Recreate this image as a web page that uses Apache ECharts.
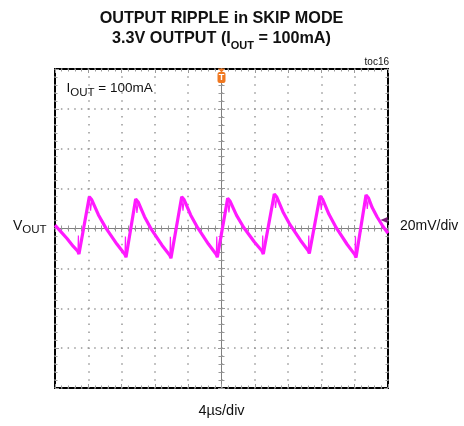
<!DOCTYPE html>
<html>
<head>
<meta charset="utf-8">
<script src="https://cdn.jsdelivr.net/npm/echarts@6/dist/echarts.min.js"></script>
<style>
html,body{margin:0;padding:0;background:#fff;}
#c{width:464px;height:426px;}
</style>
</head>
<body>
<div id="c"></div>
<script>
// ---- Data (time in µs relative to trigger, ripple in mV) ----
const timeUs = [
  -20.00, -19.30, -18.56, -17.80, -17.27, -17.12, -15.88, -15.58,
  -14.78, -13.90, -12.57, -11.62, -11.47, -10.31, -10.01,
  -9.25, -8.40, -7.13, -6.22, -6.07, -4.78, -4.48,
  -3.71, -2.85, -1.57, -0.65, -0.50, 0.74, 1.04,
  1.81, 2.67, 3.95, 4.87, 5.02, 6.34, 6.64,
  7.39, 8.23, 9.50, 10.40, 10.55, 11.83, 12.13,
  12.91, 13.78, 15.08, 16.01, 16.16, 17.36, 17.66,
  18.10, 18.68, 19.40, 20.00
];
const rippleMv = [
  1.7, -1.6, -5.0, -9.0, -11.3, -12.8, 15.9, 14.4,
  6.8, 0.3, -7.8, -12.9, -14.4, 14.8, 13.3,
  5.9, -0.6, -8.5, -13.4, -14.9, 15.9, 14.4,
  6.8, 0.3, -7.8, -12.9, -14.4, 15.1, 13.6,
  6.6, 0.5, -6.8, -11.3, -12.8, 17.3, 15.8,
  8.3, 1.9, -6.0, -11.0, -12.5, 16.3, 14.8,
  7.1, 0.4, -7.9, -13.1, -14.6, 16.8, 15.3,
  10.5, 5.9, 1.0, -2.4
];
// thin switching glitches (null = break between glitches)
const glitchTimeUs = [
  -17.24, -17.19, -17.12, null, -15.88, -15.73, -15.58, null,
  -11.59, -11.54, -11.47, null, -10.31, -10.16, -10.01, null,
  -6.19, -6.14, -6.07, null, -4.78, -4.63, -4.48, null,
  -0.62, -0.57, -0.50, null, 0.74, 0.89, 1.04, null,
  4.90, 4.95, 5.02, null, 6.34, 6.49, 6.64, null,
  10.43, 10.48, 10.55, null, 11.83, 11.98, 12.13, null,
  16.04, 16.09, 16.16, null, 17.36, 17.51, 17.66
];
const glitchMv = [
  -11.3, -3.5, -12.8, null, 15.9, 8.9, 14.4, null,
  -12.9, -4.0, -14.4, null, 14.8, 7.8, 13.3, null,
  -13.4, -4.2, -14.9, null, 15.9, 8.9, 14.4, null,
  -12.9, -4.0, -14.4, null, 15.1, 8.1, 13.6, null,
  -11.3, -3.5, -12.8, null, 17.3, 10.3, 15.8, null,
  -11.0, -3.5, -12.5, null, 16.3, 9.3, 14.8, null,
  -13.1, -4.0, -14.6, null, 16.8, 9.8, 15.3
];
// axis ranges: 10 horizontal divisions of 4 µs, 8 vertical divisions of 20 mV
const xRange = [-20, 20];
const xDiv = 4;
const yRange = [-80, 80];
const yDiv = 20;
// trigger position (time, top of screen) and trigger level (mV)
const triggerTime = 0;
const triggerLevelMv = 4.3;

const FONT = "'Liberation Sans', Arial, Helvetica, sans-serif";
const GRID = {left: 55, top: 69, width: 333, height: 319};
const TRACE = '#ff1aff';

const chart = echarts.init(document.getElementById('c'), null, {renderer: 'canvas'});

// ---- text helpers (rows of normal + subscript pieces) ----
const mctx = document.createElement('canvas').getContext('2d');
function textWidth(t, size, weight) {
  mctx.font = (weight || 'normal') + ' ' + size + 'px ' + FONT;
  return mctx.measureText(t).width;
}
function row(pieces, x, y, align) {
  const widths = pieces.map(p => textWidth(p.t, p.s, p.w));
  const total = widths.reduce((a, b) => a + b, 0);
  let cx = align === 'center' ? x - total / 2 : (align === 'right' ? x - total : x);
  const els = [];
  pieces.forEach((p, i) => {
    els.push({
      type: 'text', x: cx, y: y + (p.dy || 0), silent: true,
      style: {
        text: p.t, fill: '#111', fontSize: p.s, fontWeight: p.w || 'normal',
        fontFamily: FONT, textAlign: 'left', textVerticalAlign: 'middle'
      }
    });
    cx += widths[i];
  });
  return els;
}

const graphics = [].concat(
  row([{t: 'OUTPUT RIPPLE in SKIP MODE', s: 16.2, w: 'bold'}], 221.5, 18.5, 'center'),
  row([{t: '3.3V OUTPUT (I', s: 16.2, w: 'bold'}, {t: 'OUT', s: 11, w: 'bold', dy: 7},
       {t: ' = 100mA)', s: 16.2, w: 'bold'}], 221.5, 39, 'center'),
  row([{t: 'toc16', s: 10}], 389, 62, 'right'),
  row([{t: 'I', s: 13.5}, {t: 'OUT', s: 11.5, dy: 4}, {t: ' = 100mA', s: 13.5}], 66.5, 88.5, 'left'),
  row([{t: 'V', s: 14}, {t: 'OUT', s: 11.5, dy: 4.3}], 13, 225.7, 'left'),
  row([{t: '20mV/div', s: 14}], 400, 226, 'left'),
  row([{t: '4\u00b5s/div', s: 14.5}], 221.5, 411, 'center')
);

// ---- axes ----
const TICK = '#999';
function xAx(grid, position, onZero, inside, line, split) {
  return {
    type: 'value', gridIndex: grid, min: xRange[0], max: xRange[1], interval: xDiv,
    position: position,
    axisLine: {show: line, onZero: onZero, lineStyle: {color: '#808080', width: 1}},
    axisTick: {show: true, inside: inside, length: onZero ? 3.5 : 4, lineStyle: {color: TICK, width: 1}},
    minorTick: {show: true, splitNumber: 5, length: onZero ? 3 : 2.5, lineStyle: {color: TICK, width: 1}},
    axisLabel: {show: false},
    splitLine: {show: split, lineStyle: {color: '#999', width: 1.5, type: [1.5, 6.475], dashOffset: 0.75}},
    minorSplitLine: {show: false}
  };
}
function yAx(grid, position, onZero, inside, line, split) {
  return {
    type: 'value', gridIndex: grid, min: yRange[0], max: yRange[1], interval: yDiv,
    position: position,
    axisLine: {show: line, onZero: onZero, lineStyle: {color: '#808080', width: 1}},
    axisTick: {show: true, inside: inside, length: onZero ? 3.5 : 4, lineStyle: {color: TICK, width: 1}},
    minorTick: {show: true, splitNumber: 5, length: onZero ? 3 : 2.5, lineStyle: {color: TICK, width: 1}},
    axisLabel: {show: false},
    splitLine: {show: split, lineStyle: {color: '#999', width: 1.5, type: [1.5, 5.16], dashOffset: 0.75}},
    minorSplitLine: {show: false}
  };
}

const option = {
  backgroundColor: '#fff',
  animation: false,
  grid: [
    Object.assign({show: true, borderColor: '#000', borderWidth: 2, backgroundColor: 'transparent'}, GRID),
    Object.assign({}, GRID),
    Object.assign({}, GRID),
    Object.assign({}, GRID)
  ],
  xAxis: [
    xAx(0, 'bottom', false, true, false, true),
    xAx(1, 'top', false, true, false, false),
    xAx(2, 'bottom', true, false, true, false),
    xAx(3, 'bottom', true, true, true, false)
  ],
  yAxis: [
    yAx(0, 'left', false, true, false, true),
    yAx(1, 'right', false, true, false, false),
    yAx(2, 'left', true, false, true, false),
    yAx(3, 'left', true, true, true, false)
  ],
  graphic: graphics,
  series: [{
    type: 'line',
    xAxisIndex: 0, yAxisIndex: 0,
    data: timeUs.map((t, i) => [t, rippleMv[i]]),
    showSymbol: false,
    symbol: 'none',
    z: 10,
    lineStyle: {color: TRACE, width: 3.2},
    markPoint: {
      silent: true,
      data: [
        {coord: [triggerTime, yRange[1]], symbol: 'triangle', symbolRotate: 180,
         symbolSize: [7, 4], symbolOffset: [0, 1.5],
         itemStyle: {color: '#f07820'}, label: {show: false}},
        {coord: [triggerTime, yRange[1]], symbol: 'roundRect',
         symbolSize: [8, 11], symbolOffset: [0, 8.5],
         itemStyle: {color: '#f07820'},
         label: {show: true, position: 'inside', formatter: 'T', color: '#fff', fontSize: 9,
                 fontWeight: 'bold', fontFamily: FONT}},
        {coord: [xRange[1], triggerLevelMv], symbol: 'triangle', symbolRotate: 90,
         symbolSize: [6, 7], symbolOffset: [-4, 0],
         itemStyle: {color: '#7a1f7a'}, label: {show: false}}
      ]
    }
  }, {
    type: 'line',
    xAxisIndex: 0, yAxisIndex: 0,
    data: glitchTimeUs.map((t, i) => t === null ? '-' : [t, glitchMv[i]]),
    showSymbol: false,
    symbol: 'none',
    connectNulls: false,
    z: 11,
    lineStyle: {color: TRACE, width: 1.2}
  }]
};
chart.setOption(option);
</script>
</body>
</html>
